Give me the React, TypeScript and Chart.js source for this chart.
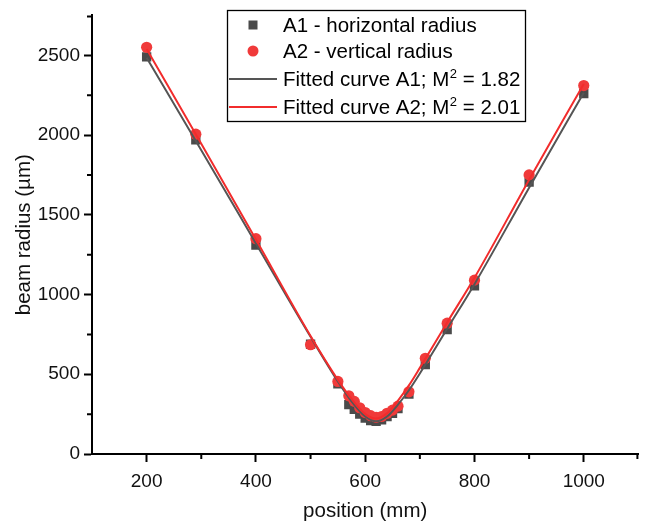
import React, { useEffect, useRef } from 'react';
import { Chart, registerables } from 'chart.js';
Chart.register(...registerables);

const FONT = "'Liberation Sans', Arial, sans-serif";

// measured data
const positions = [200, 290, 400, 500, 550, 570, 580, 590, 600, 610, 620, 630, 640, 650, 660, 680, 710, 750, 800, 900, 1000];
const radiusA1 = [2490, 1970, 1310, 688, 440, 310, 280, 250, 225, 210, 205, 215, 235, 255, 285, 375, 560, 780, 1055, 1705, 2260];
const radiusA2 = [2550, 2005, 1350, 685, 455, 365, 330, 290, 260, 240, 230, 235, 255, 275, 300, 390, 600, 820, 1090, 1750, 2310];

// fitted curves
const fitPositions = [200, 300, 400, 500, 550, 575, 600, 620, 640, 660, 680, 700, 750, 800, 900, 1000];
const fitA1 = [2485, 1905, 1320, 735, 455, 330, 235, 205, 235, 310, 400, 505, 785, 1065, 1670, 2265];
const fitA2 = [2540, 1945, 1345, 740, 465, 345, 250, 222, 255, 335, 430, 540, 825, 1105, 1720, 2320];

const seriesLabels = [
  'A1 - horizontal radius',
  'A2 - vertical radius',
  'Fitted curve A1; M² = 1.82',
  'Fitted curve A2; M² = 2.01',
];

const xTickValues = [200, 400, 600, 800, 1000];
const xMinorTicks = [300, 500, 700, 900, 1100];
const yTickValues = [0, 500, 1000, 1500, 2000, 2500];
const yMinorTicks = [250, 750, 1250, 1750, 2250, 2750];

const GRAY = '#4a4a4a';
const RED = '#f03a3a';
const LINE_GRAY = '#555555';
const LINE_RED = '#f22c2c';

const TICK_SIZE = 19;
const TITLE_SIZE = 20.5;
const LEGEND_SIZE = 20.5;

const minorTickPlugin = {
  id: 'minorTicks',
  afterDraw(chart: any) {
    const ctx = chart.ctx;
    const xs = chart.scales.x;
    const ys = chart.scales.y;
    const area = chart.chartArea;
    ctx.save();
    ctx.strokeStyle = '#000';
    ctx.lineWidth = 2;
    ctx.beginPath();
    xMinorTicks.forEach((v) => {
      const px = Math.min(xs.getPixelForValue(v), area.right - 1);
      ctx.moveTo(px, area.bottom);
      ctx.lineTo(px, area.bottom + 5);
    });
    yMinorTicks.forEach((v) => {
      const py = Math.max(ys.getPixelForValue(v), area.top + 1);
      ctx.moveTo(area.left, py);
      ctx.lineTo(area.left - 5, py);
    });
    ctx.stroke();
    ctx.restore();
  },
};

const legendPlugin = {
  id: 'boxLegend',
  afterDraw(chart: any) {
    const ctx = chart.ctx;
    ctx.save();
    const bx = 227.5, by = 10.5, bw = 298, bh = 111;
    ctx.fillStyle = '#fff';
    ctx.fillRect(bx, by, bw, bh);
    ctx.strokeStyle = '#000';
    ctx.lineWidth = 1.3;
    ctx.strokeRect(bx, by, bw, bh);
    const rowY = [25, 51, 79, 107];
    [0, 1, 2, 3].forEach((i) => {
      const ds = chart.data.datasets[i];
      const y = rowY[i];
      if (ds.showLine) {
        ctx.strokeStyle = ds.borderColor;
        ctx.lineWidth = 2;
        ctx.beginPath();
        ctx.moveTo(229, y);
        ctx.lineTo(277, y);
        ctx.stroke();
      } else if (ds.pointStyle === 'rect') {
        ctx.fillStyle = ds.backgroundColor;
        ctx.fillRect(253 - 4.5, y - 4.5, 9, 9);
      } else {
        ctx.fillStyle = ds.backgroundColor;
        ctx.beginPath();
        ctx.arc(253, y, 5.5, 0, Math.PI * 2);
        ctx.fill();
      }
      const label: string = ds.label;
      ctx.fillStyle = '#000';
      ctx.textBaseline = 'middle';
      ctx.textAlign = 'left';
      let x = 283;
      const parts = label.split('²');
      ctx.font = `${LEGEND_SIZE}px ${FONT}`;
      ctx.fillText(parts[0], x, y + 1);
      x += ctx.measureText(parts[0]).width;
      if (parts.length > 1) {
        ctx.font = `${Math.round(LEGEND_SIZE * 0.65)}px ${FONT}`;
        ctx.fillText('2', x + 0.5, y - 5);
        x += ctx.measureText('2').width + 0.5;
        ctx.font = `${LEGEND_SIZE}px ${FONT}`;
        ctx.fillText(parts[1], x, y + 1);
      }
    });
    ctx.restore();
  },
};

export default function App() {
  const ref = useRef<HTMLCanvasElement | null>(null);
  useEffect(() => {
    if (!ref.current) return;
    const chart = new Chart(ref.current, {
      type: 'scatter',
      data: {
        datasets: [
          {
            label: seriesLabels[0],
            data: positions.map((x, i) => ({ x, y: radiusA1[i] })),
            pointStyle: 'rect',
            pointRadius: 6.6,
            backgroundColor: GRAY,
            borderColor: GRAY,
            borderWidth: 0,
            showLine: false,
            order: 3,
          },
          {
            label: seriesLabels[1],
            data: positions.map((x, i) => ({ x, y: radiusA2[i] })),
            pointStyle: 'circle',
            pointRadius: 5.6,
            backgroundColor: RED,
            borderColor: RED,
            borderWidth: 0,
            showLine: false,
            order: 2,
          },
          {
            label: seriesLabels[2],
            data: fitPositions.map((x, i) => ({ x, y: fitA1[i] })),
            showLine: true,
            pointRadius: 0,
            borderColor: LINE_GRAY,
            backgroundColor: LINE_GRAY,
            borderWidth: 2,
            cubicInterpolationMode: 'monotone',
            order: 1,
          },
          {
            label: seriesLabels[3],
            data: fitPositions.map((x, i) => ({ x, y: fitA2[i] })),
            showLine: true,
            pointRadius: 0,
            borderColor: LINE_RED,
            backgroundColor: LINE_RED,
            borderWidth: 2,
            cubicInterpolationMode: 'monotone',
            order: 0,
          },
        ],
      },
      options: {
        responsive: false,
        animation: false,
        layout: { padding: { top: 10, right: 0, left: 0, bottom: 0 } },
        plugins: {
          legend: { display: false },
          tooltip: { enabled: false },
        },
        scales: {
          x: {
            type: 'linear',
            min: 100,
            max: 1100,
            afterBuildTicks: (scale: any) => {
              scale.ticks = xTickValues.map((v) => ({ value: v }));
            },
            afterFit: (scale: any) => {
              scale.height = 73;
            },
            grid: {
              display: true,
              drawOnChartArea: false,
              drawTicks: true,
              tickLength: 8,
              tickWidth: 2,
              tickColor: '#000',
            },
            border: { display: true, color: '#000', width: 2 },
            ticks: {
              color: '#111',
              font: { family: FONT, size: TICK_SIZE },
              padding: 8,
              maxRotation: 0,
              callback: (v: any) => String(v),
            },
            title: {
              display: true,
              text: 'position (mm)',
              color: '#111',
              font: { family: FONT, size: TITLE_SIZE },
              padding: { top: 0, bottom: 3 },
            },
          },
          y: {
            type: 'linear',
            min: 0,
            max: 2750,
            afterBuildTicks: (scale: any) => {
              scale.ticks = yTickValues.map((v) => ({ value: v }));
            },
            afterFit: (scale: any) => {
              scale.width = 92;
            },
            grid: {
              display: true,
              drawOnChartArea: false,
              drawTicks: true,
              tickLength: 8,
              tickWidth: 2,
              tickColor: '#000',
            },
            border: { display: true, color: '#000', width: 2 },
            ticks: {
              color: '#111',
              font: { family: FONT, size: TICK_SIZE },
              padding: 4,
              callback: (v: any) => String(v),
            },
            title: {
              display: true,
              text: 'beam radius (µm)',
              color: '#111',
              font: { family: FONT, size: TITLE_SIZE },
              padding: { top: 12, bottom: 0 },
            },
          },
        },
      } as any,
      plugins: [minorTickPlugin, legendPlugin],
    });
    return () => chart.destroy();
  }, []);
  return (
    <div style={{ position: 'absolute', left: 0, top: 0, width: 645, height: 527, background: '#fff' }}>
      <canvas ref={ref} width={645} height={527} style={{ display: 'block' }} />
    </div>
  );
}
